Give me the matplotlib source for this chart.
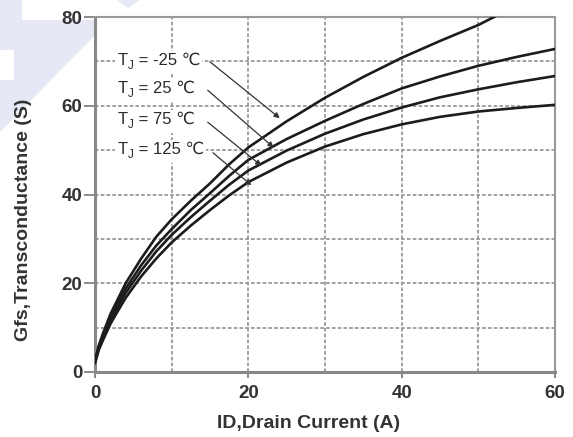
import matplotlib
matplotlib.use("Agg")
import matplotlib.pyplot as plt
from matplotlib.patches import Polygon, Rectangle
from matplotlib.transforms import Bbox

# ---- data ----
id_current = [0, 0.5, 1, 2, 3, 4, 6, 8, 10, 12.5, 15, 17.5, 20, 25, 30, 35, 40, 45, 50, 55, 60]
id_current_m25 = [0, 0.5, 1, 2, 3, 4, 6, 8, 10, 12.5, 15, 17.5, 20, 25, 30, 35, 40, 45, 50, 52.5]
gfs_m25 = [2.5, 6.0, 8.5, 13.0, 16.5, 20.0, 25.5, 30.5, 34.4, 38.6, 42.5, 46.8, 50.6, 56.5, 61.8, 66.5, 70.8, 74.6, 78.2, 80.4]
gfs_25 = [2.5, 5.7, 8.0, 12.2, 15.5, 18.8, 24.0, 28.5, 32.2, 36.5, 40.3, 44.2, 47.8, 52.5, 56.6, 60.4, 63.9, 66.6, 69.0, 71.0, 72.8]
gfs_75 = [2.2, 5.3, 7.5, 11.5, 14.7, 17.8, 22.8, 27.2, 30.9, 34.9, 38.6, 42.2, 45.4, 49.9, 53.7, 56.9, 59.6, 61.9, 63.7, 65.3, 66.7]
gfs_125 = [2.0, 5.0, 7.0, 10.8, 13.8, 16.7, 21.5, 25.6, 29.2, 33.0, 36.5, 39.8, 42.8, 47.2, 50.8, 53.6, 55.8, 57.5, 58.7, 59.5, 60.2]

labels = ["-25", "25", "75", "125"]
label_pos = [(2.9, 69.2), (2.9, 62.9), (2.9, 56.0), (2.9, 49.2)]
arrow_start = [(15.0, 69.9), (14.7, 63.5), (14.7, 56.3), (15.4, 49.4)]
arrow_end = [(24.1, 57.2), (23.3, 50.6), (21.7, 46.5), (20.4, 42.1)]

xticks = [0, 20, 40, 60]
yticks = [0, 20, 40, 60, 80]
grid_x = [10, 30, 50]
grid_y = [10, 30, 50, 70]

FAM = ['Liberation Sans', 'DejaVu Sans']
plt.rcParams['font.family'] = FAM

fig = plt.figure(figsize=(5.73, 4.37), dpi=100)
fig.patch.set_facecolor('white')

# watermark decoration (top-left)
lav = '#e6e8f6'
W, H = 573, 437
def fpt(px, py):
    return (px / W, 1 - py / H)
fig.patches.append(Polygon([fpt(0, 0), fpt(22, 0), fpt(22, 20), fpt(110, 20), fpt(0, 132)],
                           closed=True, transform=fig.transFigure, facecolor=lav, edgecolor='none', zorder=-2))
fig.patches.append(Polygon([fpt(117, 0), fpt(140, 0), fpt(128, 8)],
                           closed=True, transform=fig.transFigure, facecolor=lav, edgecolor='none', zorder=-2))
fig.patches.append(Rectangle(fpt(0, 80), 14 / W, 30 / H, transform=fig.transFigure,
                             facecolor='white', edgecolor='none', zorder=-1))

ax = fig.add_axes([95 / W, 1 - 372 / H, (555 - 95) / W, (372 - 17) / H])
ax.set_facecolor('white')

curve_color = '#1c1c1c'
ax.plot(id_current_m25, gfs_m25, color=curve_color, lw=1.9, zorder=3)
ax.plot(id_current, gfs_25, color=curve_color, lw=1.9, zorder=3)
ax.plot(id_current, gfs_75, color=curve_color, lw=1.9, zorder=3)
ax.plot(id_current, gfs_125, color=curve_color, lw=1.9, zorder=3)

ax.set_xlim(0, 60)
ax.set_ylim(0, 80)
ax.set_xticks(xticks)
ax.set_yticks(yticks)
ax.set_xticks(grid_x, minor=True)
ax.set_yticks(grid_y, minor=True)
ax.grid(True, which='both', color='#999999', lw=1.3, linestyle=(0, (2, 1.2)), zorder=1)
ax.set_axisbelow(True)

tick_color = '#333333'
ax.tick_params(axis='y', which='major', direction='out', length=8, width=1.2, color='#777777',
               pad=1, labelsize=13.5, labelcolor=tick_color)
ax.tick_params(axis='x', which='major', direction='out', length=4, width=1.2, color='#777777',
               pad=5, labelsize=13.5, labelcolor=tick_color)
ax.tick_params(which='minor', length=0)
for lab in ax.get_xticklabels() + ax.get_yticklabels():
    lab.set_fontweight('bold')

for side in ['left', 'bottom']:
    ax.spines[side].set_color('#888888')
    ax.spines[side].set_linewidth(2.2)
for side in ['top', 'right']:
    ax.spines[side].set_color('#999999')
    ax.spines[side].set_linewidth(1.5)

txt_color = '#2a2a2a'
label_groups = []
for lab, pos, s, e in zip(labels, label_pos, arrow_start, arrow_end):
    t_main = ax.text(pos[0], pos[1], "T", fontsize=12, color=txt_color, family=FAM,
                     ha='left', va='baseline', zorder=5)
    t_sub = ax.annotate("J", xy=(1, 0), xycoords=t_main, xytext=(0.4, -0.8),
                        textcoords='offset points', fontsize=8.5, color=txt_color, family=FAM,
                        ha='left', va='baseline', zorder=5)
    t_rest = ax.annotate(" = " + lab + " ℃", xy=(1, 0), xycoords=(t_sub, t_main), xytext=(0, 0),
                         textcoords='offset points', fontsize=12, color=txt_color, family=FAM,
                         ha='left', va='bottom', zorder=5)
    label_groups.append((t_main, t_sub, t_rest))
    ax.annotate("", xy=e, xytext=s,
                arrowprops=dict(arrowstyle='-|>', color='#333333', lw=0.9,
                                mutation_scale=8, shrinkA=0, shrinkB=0), zorder=4)

fig.text(309 / W, 1 - 423 / H, "ID,Drain Current (A)", ha='center', va='center',
         fontsize=14, fontweight='bold', color=tick_color)
fig.text(24 / W, 1 - 220 / H, "Gfs,Transconductance (S)", ha='center', va='center', rotation=90,
         fontsize=14, fontweight='bold', color=tick_color)

# white boxes behind the temperature labels (hide the grid like the reference)
fig.canvas.draw()
renderer = fig.canvas.get_renderer()
inv = ax.transData.inverted()
for group in label_groups:
    bb = Bbox.union([t.get_window_extent(renderer) for t in group]).padded(2)
    (x0, y0), (x1, y1) = inv.transform([[bb.x0, bb.y0], [bb.x1, bb.y1]])
    ax.add_patch(Rectangle((x0, y0), x1 - x0, y1 - y0, facecolor='white', edgecolor='none', zorder=4))

fig.savefig("out.png", dpi=100)
